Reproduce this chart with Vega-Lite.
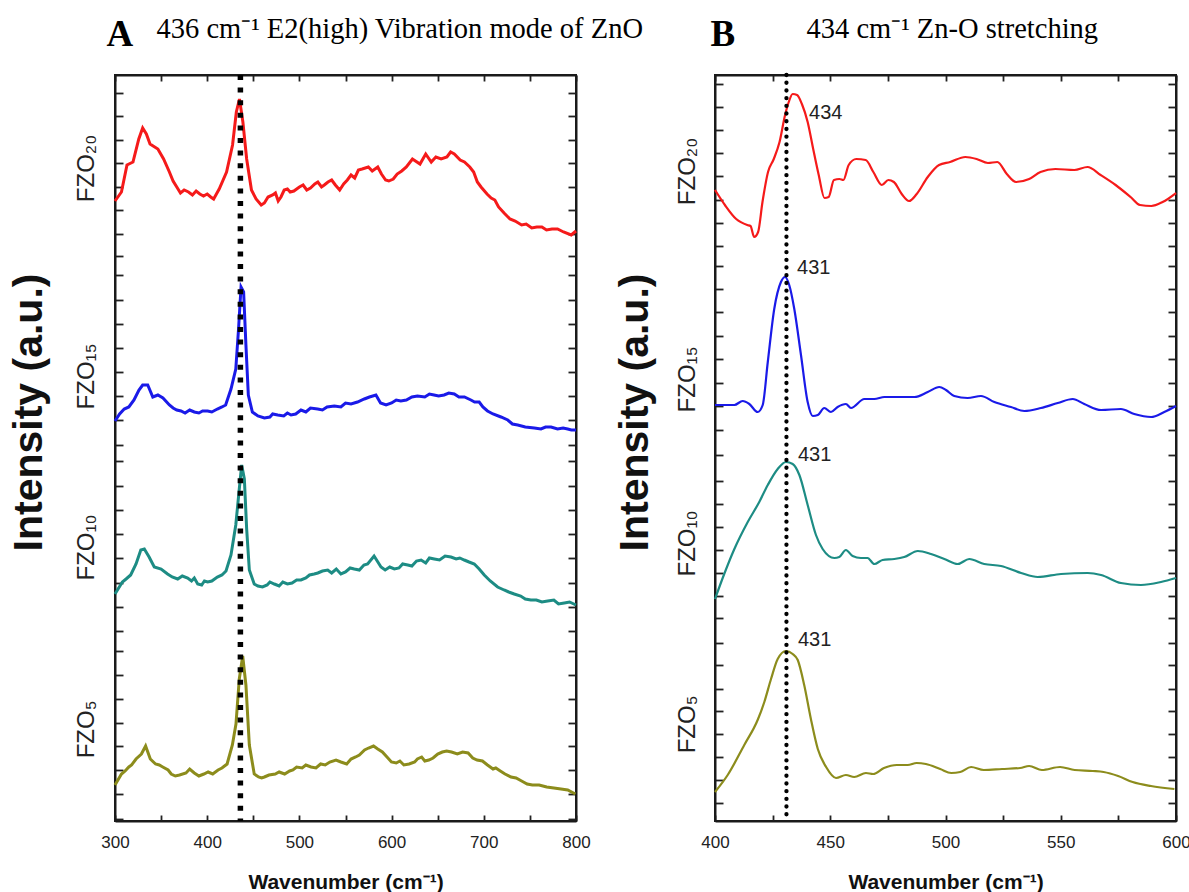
{
"$schema": "https://vega.github.io/schema/vega-lite/v6.json",
"padding": {"left": 7, "top": 13, "right": 0, "bottom": 0},
"background": "white",
"config": {
  "view": {"stroke": "#1a1a1a", "strokeWidth": 2},
  "axis": {"grid": false, "domain": false, "tickColor": "#222", "tickWidth": 1.8, "domainColor": "#1a1a1a", "domainWidth": 2, "labelFont": "Liberation Sans", "titleFont": "Liberation Sans", "labelColor": "#222", "titleColor": "#111"},
  "text": {"font": "Liberation Sans"}
},
"datasets": {
"specA": [
{"sample":"FZO20","wavenumber":300,"intensity":620},{"sample":"FZO20","wavenumber":307,"intensity":629},{"sample":"FZO20","wavenumber":313,"intensity":656},{"sample":"FZO20","wavenumber":319.5,"intensity":659},{"sample":"FZO20","wavenumber":325.8,"intensity":682},{"sample":"FZO20","wavenumber":330,"intensity":693},{"sample":"FZO20","wavenumber":334,"intensity":687},{"sample":"FZO20","wavenumber":338,"intensity":677},{"sample":"FZO20","wavenumber":346.5,"intensity":672},{"sample":"FZO20","wavenumber":352.7,"intensity":662},{"sample":"FZO20","wavenumber":359,"intensity":649},{"sample":"FZO20","wavenumber":367,"intensity":634},{"sample":"FZO20","wavenumber":379.7,"intensity":629},{"sample":"FZO20","wavenumber":392,"intensity":627},{"sample":"FZO20","wavenumber":403.8,"intensity":624},{"sample":"FZO20","wavenumber":413,"intensity":632},{"sample":"FZO20","wavenumber":421,"intensity":649},{"sample":"FZO20","wavenumber":427.5,"intensity":676},{"sample":"FZO20","wavenumber":431.6,"intensity":709},{"sample":"FZO20","wavenumber":435,"intensity":722},{"sample":"FZO20","wavenumber":438.7,"intensity":699},{"sample":"FZO20","wavenumber":442.8,"intensity":662},{"sample":"FZO20","wavenumber":448,"intensity":631},{"sample":"FZO20","wavenumber":458.6,"intensity":616},{"sample":"FZO20","wavenumber":471,"intensity":626},{"sample":"FZO20","wavenumber":477,"intensity":620},{"sample":"FZO20","wavenumber":483.5,"intensity":631},{"sample":"FZO20","wavenumber":490,"intensity":629},{"sample":"FZO20","wavenumber":500,"intensity":634},{"sample":"FZO20","wavenumber":508,"intensity":631},{"sample":"FZO20","wavenumber":516.7,"intensity":637},{"sample":"FZO20","wavenumber":524,"intensity":634},{"sample":"FZO20","wavenumber":531,"intensity":639},{"sample":"FZO20","wavenumber":543.7,"intensity":631},{"sample":"FZO20","wavenumber":552,"intensity":641},{"sample":"FZO20","wavenumber":564,"intensity":651},{"sample":"FZO20","wavenumber":574.8,"intensity":654},{"sample":"FZO20","wavenumber":585,"intensity":654},{"sample":"FZO20","wavenumber":593.5,"intensity":641},{"sample":"FZO20","wavenumber":601.8,"intensity":642},{"sample":"FZO20","wavenumber":616,"intensity":654},{"sample":"FZO20","wavenumber":622.6,"intensity":662},{"sample":"FZO20","wavenumber":630.8,"intensity":657},{"sample":"FZO20","wavenumber":637,"intensity":667},{"sample":"FZO20","wavenumber":643,"intensity":659},{"sample":"FZO20","wavenumber":653.7,"intensity":662},{"sample":"FZO20","wavenumber":668,"intensity":667},{"sample":"FZO20","wavenumber":674.4,"intensity":661},{"sample":"FZO20","wavenumber":684.8,"intensity":654},{"sample":"FZO20","wavenumber":693,"intensity":639},{"sample":"FZO20","wavenumber":703.5,"intensity":627},{"sample":"FZO20","wavenumber":716,"intensity":614},{"sample":"FZO20","wavenumber":728.4,"intensity":602},{"sample":"FZO20","wavenumber":741,"intensity":596},{"sample":"FZO20","wavenumber":757.5,"intensity":594},{"sample":"FZO20","wavenumber":774,"intensity":592},{"sample":"FZO20","wavenumber":786.5,"intensity":589},{"sample":"FZO20","wavenumber":794.8,"intensity":586},{"sample":"FZO20","wavenumber":800,"intensity":590},
{"sample":"FZO20","wavenumber":363,"intensity":640},{"sample":"FZO20","wavenumber":371,"intensity":628},{"sample":"FZO20","wavenumber":375,"intensity":631},{"sample":"FZO20","wavenumber":384,"intensity":626},{"sample":"FZO20","wavenumber":388,"intensity":630},{"sample":"FZO20","wavenumber":396,"intensity":625},{"sample":"FZO20","wavenumber":400,"intensity":627},{"sample":"FZO20","wavenumber":407,"intensity":622},{"sample":"FZO20","wavenumber":410,"intensity":627},{"sample":"FZO20","wavenumber":453,"intensity":622},{"sample":"FZO20","wavenumber":462,"intensity":618},{"sample":"FZO20","wavenumber":466,"intensity":624},{"sample":"FZO20","wavenumber":474,"intensity":628},{"sample":"FZO20","wavenumber":480,"intensity":624},{"sample":"FZO20","wavenumber":487,"intensity":632},{"sample":"FZO20","wavenumber":494,"intensity":630},{"sample":"FZO20","wavenumber":504,"intensity":636},{"sample":"FZO20","wavenumber":512,"intensity":633},{"sample":"FZO20","wavenumber":520,"intensity":639},{"sample":"FZO20","wavenumber":527,"intensity":636},{"sample":"FZO20","wavenumber":535,"intensity":641},{"sample":"FZO20","wavenumber":539,"intensity":636},{"sample":"FZO20","wavenumber":548,"intensity":637},{"sample":"FZO20","wavenumber":556,"intensity":646},{"sample":"FZO20","wavenumber":560,"intensity":643},{"sample":"FZO20","wavenumber":568,"intensity":652},{"sample":"FZO20","wavenumber":579,"intensity":650},{"sample":"FZO20","wavenumber":589,"intensity":647},{"sample":"FZO20","wavenumber":597,"intensity":640},{"sample":"FZO20","wavenumber":606,"intensity":647},{"sample":"FZO20","wavenumber":611,"intensity":650},{"sample":"FZO20","wavenumber":648,"intensity":664},{"sample":"FZO20","wavenumber":660,"intensity":664},{"sample":"FZO20","wavenumber":664,"intensity":669},{"sample":"FZO20","wavenumber":679,"intensity":659},{"sample":"FZO20","wavenumber":689,"intensity":649},{"sample":"FZO20","wavenumber":697,"intensity":634},{"sample":"FZO20","wavenumber":708,"intensity":623},{"sample":"FZO20","wavenumber":712,"intensity":621},{"sample":"FZO20","wavenumber":722,"intensity":608},{"sample":"FZO20","wavenumber":734,"intensity":600},{"sample":"FZO20","wavenumber":746,"intensity":597},{"sample":"FZO20","wavenumber":752,"intensity":593},{"sample":"FZO20","wavenumber":763,"intensity":594},{"sample":"FZO20","wavenumber":768,"intensity":591},{"sample":"FZO20","wavenumber":780,"intensity":592},
{"sample":"FZO15","wavenumber":300,"intensity":400},{"sample":"FZO15","wavenumber":310,"intensity":412},{"sample":"FZO15","wavenumber":320.6,"intensity":421},{"sample":"FZO15","wavenumber":326,"intensity":431},{"sample":"FZO15","wavenumber":330,"intensity":436},{"sample":"FZO15","wavenumber":335.5,"intensity":436},{"sample":"FZO15","wavenumber":341,"intensity":424},{"sample":"FZO15","wavenumber":346.5,"intensity":426},{"sample":"FZO15","wavenumber":352,"intensity":423},{"sample":"FZO15","wavenumber":359,"intensity":416},{"sample":"FZO15","wavenumber":371.6,"intensity":410},{"sample":"FZO15","wavenumber":386,"intensity":409},{"sample":"FZO15","wavenumber":400.5,"intensity":410},{"sample":"FZO15","wavenumber":411,"intensity":412},{"sample":"FZO15","wavenumber":420,"intensity":416},{"sample":"FZO15","wavenumber":425.8,"intensity":432},{"sample":"FZO15","wavenumber":431,"intensity":452},{"sample":"FZO15","wavenumber":434,"intensity":492},{"sample":"FZO15","wavenumber":436.7,"intensity":534},{"sample":"FZO15","wavenumber":439.5,"intensity":529},{"sample":"FZO15","wavenumber":442,"intensity":476},{"sample":"FZO15","wavenumber":444.6,"intensity":426},{"sample":"FZO15","wavenumber":449,"intensity":409},{"sample":"FZO15","wavenumber":462,"intensity":403},{"sample":"FZO15","wavenumber":476.5,"intensity":406},{"sample":"FZO15","wavenumber":490.9,"intensity":406},{"sample":"FZO15","wavenumber":501.7,"intensity":411},{"sample":"FZO15","wavenumber":519.8,"intensity":412},{"sample":"FZO15","wavenumber":537.9,"intensity":415},{"sample":"FZO15","wavenumber":556,"intensity":417},{"sample":"FZO15","wavenumber":570.4,"intensity":422},{"sample":"FZO15","wavenumber":583,"intensity":426},{"sample":"FZO15","wavenumber":594,"intensity":416},{"sample":"FZO15","wavenumber":610,"intensity":420},{"sample":"FZO15","wavenumber":628,"intensity":425},{"sample":"FZO15","wavenumber":646,"intensity":426},{"sample":"FZO15","wavenumber":657,"intensity":426},{"sample":"FZO15","wavenumber":668,"intensity":427},{"sample":"FZO15","wavenumber":679,"intensity":424},{"sample":"FZO15","wavenumber":686,"intensity":421},{"sample":"FZO15","wavenumber":695,"intensity":419},{"sample":"FZO15","wavenumber":704,"intensity":410},{"sample":"FZO15","wavenumber":718.6,"intensity":404},{"sample":"FZO15","wavenumber":736.8,"intensity":396},{"sample":"FZO15","wavenumber":754.8,"intensity":393},{"sample":"FZO15","wavenumber":772.9,"intensity":394},{"sample":"FZO15","wavenumber":791,"intensity":392},{"sample":"FZO15","wavenumber":800,"intensity":391},
{"sample":"FZO15","wavenumber":305,"intensity":407},{"sample":"FZO15","wavenumber":315,"intensity":414},{"sample":"FZO15","wavenumber":363,"intensity":413},{"sample":"FZO15","wavenumber":367,"intensity":411},{"sample":"FZO15","wavenumber":376,"intensity":408},{"sample":"FZO15","wavenumber":381,"intensity":411},{"sample":"FZO15","wavenumber":391,"intensity":408},{"sample":"FZO15","wavenumber":395,"intensity":410},{"sample":"FZO15","wavenumber":405,"intensity":409},{"sample":"FZO15","wavenumber":416,"intensity":414},{"sample":"FZO15","wavenumber":455,"intensity":405},{"sample":"FZO15","wavenumber":468,"intensity":404},{"sample":"FZO15","wavenumber":471,"intensity":407},{"sample":"FZO15","wavenumber":483,"intensity":405},{"sample":"FZO15","wavenumber":487,"intensity":408},{"sample":"FZO15","wavenumber":496,"intensity":407},{"sample":"FZO15","wavenumber":507,"intensity":409},{"sample":"FZO15","wavenumber":512,"intensity":413},{"sample":"FZO15","wavenumber":525,"intensity":411},{"sample":"FZO15","wavenumber":530,"intensity":414},{"sample":"FZO15","wavenumber":545,"intensity":414},{"sample":"FZO15","wavenumber":550,"intensity":418},{"sample":"FZO15","wavenumber":563,"intensity":419},{"sample":"FZO15","wavenumber":576,"intensity":424},{"sample":"FZO15","wavenumber":588,"intensity":418},{"sample":"FZO15","wavenumber":600,"intensity":418},{"sample":"FZO15","wavenumber":605,"intensity":421},{"sample":"FZO15","wavenumber":616,"intensity":421},{"sample":"FZO15","wavenumber":622,"intensity":424},{"sample":"FZO15","wavenumber":636,"intensity":424},{"sample":"FZO15","wavenumber":641,"intensity":427},{"sample":"FZO15","wavenumber":651,"intensity":425},{"sample":"FZO15","wavenumber":662,"intensity":428},{"sample":"FZO15","wavenumber":673,"intensity":424},{"sample":"FZO15","wavenumber":690,"intensity":419},{"sample":"FZO15","wavenumber":699,"intensity":414},{"sample":"FZO15","wavenumber":710,"intensity":407},{"sample":"FZO15","wavenumber":726,"intensity":401},{"sample":"FZO15","wavenumber":731,"intensity":397},{"sample":"FZO15","wavenumber":745,"intensity":394},{"sample":"FZO15","wavenumber":762,"intensity":392},{"sample":"FZO15","wavenumber":767,"intensity":394},{"sample":"FZO15","wavenumber":780,"intensity":392},{"sample":"FZO15","wavenumber":786,"intensity":393},{"sample":"FZO15","wavenumber":795,"intensity":391},
{"sample":"FZO10","wavenumber":300,"intensity":227},{"sample":"FZO10","wavenumber":308,"intensity":239},{"sample":"FZO10","wavenumber":317,"intensity":246},{"sample":"FZO10","wavenumber":322.8,"intensity":257},{"sample":"FZO10","wavenumber":328,"intensity":271},{"sample":"FZO10","wavenumber":331.8,"intensity":272},{"sample":"FZO10","wavenumber":337,"intensity":264},{"sample":"FZO10","wavenumber":342.6,"intensity":254},{"sample":"FZO10","wavenumber":350,"intensity":252},{"sample":"FZO10","wavenumber":357,"intensity":247},{"sample":"FZO10","wavenumber":368,"intensity":242},{"sample":"FZO10","wavenumber":378.8,"intensity":243},{"sample":"FZO10","wavenumber":389.7,"intensity":237},{"sample":"FZO10","wavenumber":400.5,"intensity":239},{"sample":"FZO10","wavenumber":411,"intensity":244},{"sample":"FZO10","wavenumber":420.4,"intensity":250},{"sample":"FZO10","wavenumber":425.8,"intensity":266},{"sample":"FZO10","wavenumber":431,"intensity":296},{"sample":"FZO10","wavenumber":434.8,"intensity":332},{"sample":"FZO10","wavenumber":437.4,"intensity":356},{"sample":"FZO10","wavenumber":440.3,"intensity":342},{"sample":"FZO10","wavenumber":442.8,"intensity":292},{"sample":"FZO10","wavenumber":445.7,"intensity":251},{"sample":"FZO10","wavenumber":451,"intensity":237},{"sample":"FZO10","wavenumber":460,"intensity":234},{"sample":"FZO10","wavenumber":472.8,"intensity":237},{"sample":"FZO10","wavenumber":487,"intensity":237},{"sample":"FZO10","wavenumber":501.7,"intensity":241},{"sample":"FZO10","wavenumber":516,"intensity":247},{"sample":"FZO10","wavenumber":530.7,"intensity":251},{"sample":"FZO10","wavenumber":545,"intensity":247},{"sample":"FZO10","wavenumber":559.5,"intensity":252},{"sample":"FZO10","wavenumber":574,"intensity":257},{"sample":"FZO10","wavenumber":581,"intensity":265},{"sample":"FZO10","wavenumber":588.5,"intensity":254},{"sample":"FZO10","wavenumber":603,"intensity":252},{"sample":"FZO10","wavenumber":617.5,"intensity":256},{"sample":"FZO10","wavenumber":632,"intensity":261},{"sample":"FZO10","wavenumber":646.3,"intensity":262},{"sample":"FZO10","wavenumber":664.4,"intensity":264},{"sample":"FZO10","wavenumber":678.8,"intensity":261},{"sample":"FZO10","wavenumber":689.7,"intensity":257},{"sample":"FZO10","wavenumber":700.5,"intensity":246},{"sample":"FZO10","wavenumber":715,"intensity":234},{"sample":"FZO10","wavenumber":733,"intensity":227},{"sample":"FZO10","wavenumber":751,"intensity":221},{"sample":"FZO10","wavenumber":769.3,"intensity":220},{"sample":"FZO10","wavenumber":787.3,"intensity":218},{"sample":"FZO10","wavenumber":800,"intensity":216},
{"sample":"FZO10","wavenumber":312,"intensity":242},{"sample":"FZO10","wavenumber":362,"intensity":244},{"sample":"FZO10","wavenumber":373,"intensity":245},{"sample":"FZO10","wavenumber":383,"intensity":240},{"sample":"FZO10","wavenumber":386,"intensity":243},{"sample":"FZO10","wavenumber":394,"intensity":236},{"sample":"FZO10","wavenumber":397,"intensity":240},{"sample":"FZO10","wavenumber":405,"intensity":240},{"sample":"FZO10","wavenumber":416,"intensity":246},{"sample":"FZO10","wavenumber":455,"intensity":235},{"sample":"FZO10","wavenumber":465,"intensity":236},{"sample":"FZO10","wavenumber":468,"intensity":239},{"sample":"FZO10","wavenumber":478,"intensity":235},{"sample":"FZO10","wavenumber":482,"intensity":239},{"sample":"FZO10","wavenumber":492,"intensity":238},{"sample":"FZO10","wavenumber":497,"intensity":241},{"sample":"FZO10","wavenumber":507,"intensity":243},{"sample":"FZO10","wavenumber":511,"intensity":246},{"sample":"FZO10","wavenumber":520,"intensity":248},{"sample":"FZO10","wavenumber":525,"intensity":250},{"sample":"FZO10","wavenumber":535,"intensity":248},{"sample":"FZO10","wavenumber":540,"intensity":252},{"sample":"FZO10","wavenumber":550,"intensity":249},{"sample":"FZO10","wavenumber":555,"intensity":253},{"sample":"FZO10","wavenumber":565,"intensity":251},{"sample":"FZO10","wavenumber":570,"intensity":256},{"sample":"FZO10","wavenumber":593,"intensity":251},{"sample":"FZO10","wavenumber":598,"intensity":254},{"sample":"FZO10","wavenumber":608,"intensity":253},{"sample":"FZO10","wavenumber":612,"intensity":257},{"sample":"FZO10","wavenumber":622,"intensity":255},{"sample":"FZO10","wavenumber":627,"intensity":260},{"sample":"FZO10","wavenumber":637,"intensity":258},{"sample":"FZO10","wavenumber":641,"intensity":263},{"sample":"FZO10","wavenumber":652,"intensity":261},{"sample":"FZO10","wavenumber":658,"intensity":265},{"sample":"FZO10","wavenumber":670,"intensity":262},{"sample":"FZO10","wavenumber":674,"intensity":263},{"sample":"FZO10","wavenumber":684,"intensity":259},{"sample":"FZO10","wavenumber":695,"intensity":252},{"sample":"FZO10","wavenumber":707,"intensity":240},{"sample":"FZO10","wavenumber":722,"intensity":231},{"sample":"FZO10","wavenumber":727,"intensity":229},{"sample":"FZO10","wavenumber":740,"intensity":225},{"sample":"FZO10","wavenumber":745,"intensity":222},{"sample":"FZO10","wavenumber":757,"intensity":221},{"sample":"FZO10","wavenumber":763,"intensity":219},{"sample":"FZO10","wavenumber":776,"intensity":221},{"sample":"FZO10","wavenumber":781,"intensity":217},{"sample":"FZO10","wavenumber":793,"intensity":219},
{"sample":"FZO5","wavenumber":300,"intensity":36},{"sample":"FZO5","wavenumber":307,"intensity":47},{"sample":"FZO5","wavenumber":315,"intensity":54},{"sample":"FZO5","wavenumber":322.8,"intensity":62},{"sample":"FZO5","wavenumber":328.6,"intensity":67},{"sample":"FZO5","wavenumber":333.2,"intensity":75},{"sample":"FZO5","wavenumber":338.3,"intensity":62},{"sample":"FZO5","wavenumber":344,"intensity":57},{"sample":"FZO5","wavenumber":351.8,"intensity":54},{"sample":"FZO5","wavenumber":357.6,"intensity":51},{"sample":"FZO5","wavenumber":365.4,"intensity":45},{"sample":"FZO5","wavenumber":377,"intensity":48},{"sample":"FZO5","wavenumber":381,"intensity":52},{"sample":"FZO5","wavenumber":396.4,"intensity":47},{"sample":"FZO5","wavenumber":411.8,"intensity":51},{"sample":"FZO5","wavenumber":421.6,"intensity":57},{"sample":"FZO5","wavenumber":427.3,"intensity":76},{"sample":"FZO5","wavenumber":431.2,"intensity":97},{"sample":"FZO5","wavenumber":434.8,"intensity":142},{"sample":"FZO5","wavenumber":438.5,"intensity":165},{"sample":"FZO5","wavenumber":442,"intensity":136},{"sample":"FZO5","wavenumber":445.7,"intensity":76},{"sample":"FZO5","wavenumber":451,"intensity":47},{"sample":"FZO5","wavenumber":455.7,"intensity":44},{"sample":"FZO5","wavenumber":462,"intensity":44},{"sample":"FZO5","wavenumber":473.8,"intensity":47},{"sample":"FZO5","wavenumber":489.4,"intensity":50},{"sample":"FZO5","wavenumber":497,"intensity":54},{"sample":"FZO5","wavenumber":512.6,"intensity":54},{"sample":"FZO5","wavenumber":528,"intensity":56},{"sample":"FZO5","wavenumber":539.7,"intensity":61},{"sample":"FZO5","wavenumber":551.3,"intensity":57},{"sample":"FZO5","wavenumber":561,"intensity":64},{"sample":"FZO5","wavenumber":570.7,"intensity":71},{"sample":"FZO5","wavenumber":580.4,"intensity":75},{"sample":"FZO5","wavenumber":590,"intensity":69},{"sample":"FZO5","wavenumber":599.8,"intensity":59},{"sample":"FZO5","wavenumber":613.3,"intensity":56},{"sample":"FZO5","wavenumber":625,"intensity":59},{"sample":"FZO5","wavenumber":632.6,"intensity":64},{"sample":"FZO5","wavenumber":640.4,"intensity":61},{"sample":"FZO5","wavenumber":650,"intensity":67},{"sample":"FZO5","wavenumber":659.7,"intensity":70},{"sample":"FZO5","wavenumber":671.3,"intensity":67},{"sample":"FZO5","wavenumber":683,"intensity":68},{"sample":"FZO5","wavenumber":692.7,"intensity":61},{"sample":"FZO5","wavenumber":698.5,"intensity":60},{"sample":"FZO5","wavenumber":710,"intensity":52},{"sample":"FZO5","wavenumber":717.9,"intensity":50},{"sample":"FZO5","wavenumber":729.5,"intensity":44},{"sample":"FZO5","wavenumber":741,"intensity":40},{"sample":"FZO5","wavenumber":752.7,"intensity":36},{"sample":"FZO5","wavenumber":768.2,"intensity":34},{"sample":"FZO5","wavenumber":783.7,"intensity":32},{"sample":"FZO5","wavenumber":799.3,"intensity":27},
{"sample":"FZO5","wavenumber":311,"intensity":50},{"sample":"FZO5","wavenumber":318,"intensity":56},{"sample":"FZO5","wavenumber":348,"intensity":56},{"sample":"FZO5","wavenumber":361,"intensity":47},{"sample":"FZO5","wavenumber":370,"intensity":46},{"sample":"FZO5","wavenumber":386,"intensity":48},{"sample":"FZO5","wavenumber":391,"intensity":45},{"sample":"FZO5","wavenumber":401,"intensity":49},{"sample":"FZO5","wavenumber":406,"intensity":47},{"sample":"FZO5","wavenumber":416,"intensity":53},{"sample":"FZO5","wavenumber":459,"intensity":43},{"sample":"FZO5","wavenumber":467,"intensity":46},{"sample":"FZO5","wavenumber":478,"intensity":49},{"sample":"FZO5","wavenumber":484,"intensity":47},{"sample":"FZO5","wavenumber":493,"intensity":51},{"sample":"FZO5","wavenumber":503,"intensity":53},{"sample":"FZO5","wavenumber":507,"intensity":56},{"sample":"FZO5","wavenumber":518,"intensity":53},{"sample":"FZO5","wavenumber":523,"intensity":57},{"sample":"FZO5","wavenumber":533,"intensity":59},{"sample":"FZO5","wavenumber":545,"intensity":59},{"sample":"FZO5","wavenumber":556,"intensity":62},{"sample":"FZO5","wavenumber":565,"intensity":66},{"sample":"FZO5","wavenumber":575,"intensity":73},{"sample":"FZO5","wavenumber":585,"intensity":72},{"sample":"FZO5","wavenumber":595,"intensity":64},{"sample":"FZO5","wavenumber":605,"intensity":58},{"sample":"FZO5","wavenumber":609,"intensity":60},{"sample":"FZO5","wavenumber":619,"intensity":57},{"sample":"FZO5","wavenumber":628,"intensity":62},{"sample":"FZO5","wavenumber":636,"intensity":60},{"sample":"FZO5","wavenumber":645,"intensity":63},{"sample":"FZO5","wavenumber":655,"intensity":69},{"sample":"FZO5","wavenumber":665,"intensity":69},{"sample":"FZO5","wavenumber":677,"intensity":69},{"sample":"FZO5","wavenumber":688,"intensity":63},{"sample":"FZO5","wavenumber":704,"intensity":56},{"sample":"FZO5","wavenumber":713,"intensity":53},{"sample":"FZO5","wavenumber":723,"intensity":47},{"sample":"FZO5","wavenumber":735,"intensity":43},{"sample":"FZO5","wavenumber":747,"intensity":37},{"sample":"FZO5","wavenumber":760,"intensity":36},{"sample":"FZO5","wavenumber":776,"intensity":33},{"sample":"FZO5","wavenumber":791,"intensity":31}
],
"specB": [
{"sample":"FZO20","wavenumber":400,"intensity":631},{"sample":"FZO20","wavenumber":404.3,"intensity":616},{"sample":"FZO20","wavenumber":409.2,"intensity":602},{"sample":"FZO20","wavenumber":414,"intensity":596},{"sample":"FZO20","wavenumber":415.4,"intensity":595},{"sample":"FZO20","wavenumber":417,"intensity":584},{"sample":"FZO20","wavenumber":418.7,"intensity":589},{"sample":"FZO20","wavenumber":420.6,"intensity":619},{"sample":"FZO20","wavenumber":423,"intensity":649},{"sample":"FZO20","wavenumber":425.5,"intensity":662},{"sample":"FZO20","wavenumber":428,"intensity":679},{"sample":"FZO20","wavenumber":430.4,"intensity":706},{"sample":"FZO20","wavenumber":432,"intensity":719},{"sample":"FZO20","wavenumber":433.7,"intensity":727},{"sample":"FZO20","wavenumber":435.6,"intensity":726},{"sample":"FZO20","wavenumber":437.7,"intensity":717},{"sample":"FZO20","wavenumber":440.2,"intensity":699},{"sample":"FZO20","wavenumber":442.6,"intensity":672},{"sample":"FZO20","wavenumber":445,"intensity":646},{"sample":"FZO20","wavenumber":447.5,"intensity":623},{"sample":"FZO20","wavenumber":449.3,"intensity":624},{"sample":"FZO20","wavenumber":451.6,"intensity":641},{"sample":"FZO20","wavenumber":454,"intensity":642},{"sample":"FZO20","wavenumber":455.7,"intensity":641},{"sample":"FZO20","wavenumber":458,"intensity":656},{"sample":"FZO20","wavenumber":461.3,"intensity":662},{"sample":"FZO20","wavenumber":465.4,"intensity":661},{"sample":"FZO20","wavenumber":468.7,"intensity":649},{"sample":"FZO20","wavenumber":472.4,"intensity":636},{"sample":"FZO20","wavenumber":475.2,"intensity":641},{"sample":"FZO20","wavenumber":477.6,"intensity":639},{"sample":"FZO20","wavenumber":481,"intensity":627},{"sample":"FZO20","wavenumber":484.2,"intensity":620},{"sample":"FZO20","wavenumber":487.5,"intensity":627},{"sample":"FZO20","wavenumber":492.3,"intensity":644},{"sample":"FZO20","wavenumber":497.2,"intensity":656},{"sample":"FZO20","wavenumber":502,"intensity":659},{"sample":"FZO20","wavenumber":508.6,"intensity":664},{"sample":"FZO20","wavenumber":513.5,"intensity":662},{"sample":"FZO20","wavenumber":518.4,"intensity":658},{"sample":"FZO20","wavenumber":522.5,"intensity":659},{"sample":"FZO20","wavenumber":526.6,"intensity":647},{"sample":"FZO20","wavenumber":530.6,"intensity":639},{"sample":"FZO20","wavenumber":536.3,"intensity":642},{"sample":"FZO20","wavenumber":541.2,"intensity":649},{"sample":"FZO20","wavenumber":547.7,"intensity":652},{"sample":"FZO20","wavenumber":555.9,"intensity":651},{"sample":"FZO20","wavenumber":561.6,"intensity":654},{"sample":"FZO20","wavenumber":567.3,"intensity":646},{"sample":"FZO20","wavenumber":573.8,"intensity":636},{"sample":"FZO20","wavenumber":580.3,"intensity":624},{"sample":"FZO20","wavenumber":584.4,"intensity":616},{"sample":"FZO20","wavenumber":589.3,"intensity":615},{"sample":"FZO20","wavenumber":594.2,"intensity":619},{"sample":"FZO20","wavenumber":600,"intensity":628},
{"sample":"FZO15","wavenumber":400,"intensity":416},{"sample":"FZO15","wavenumber":408.4,"intensity":416},{"sample":"FZO15","wavenumber":412,"intensity":420},{"sample":"FZO15","wavenumber":414.9,"intensity":417},{"sample":"FZO15","wavenumber":418.5,"intensity":409},{"sample":"FZO15","wavenumber":420.7,"intensity":416},{"sample":"FZO15","wavenumber":422.9,"intensity":459},{"sample":"FZO15","wavenumber":425.7,"intensity":512},{"sample":"FZO15","wavenumber":428.6,"intensity":539},{"sample":"FZO15","wavenumber":430.4,"intensity":544},{"sample":"FZO15","wavenumber":432.2,"intensity":536},{"sample":"FZO15","wavenumber":434.4,"intensity":512},{"sample":"FZO15","wavenumber":437.3,"intensity":466},{"sample":"FZO15","wavenumber":440.2,"intensity":419},{"sample":"FZO15","wavenumber":442.4,"intensity":405},{"sample":"FZO15","wavenumber":444.6,"intensity":406},{"sample":"FZO15","wavenumber":447.4,"intensity":413},{"sample":"FZO15","wavenumber":450.3,"intensity":409},{"sample":"FZO15","wavenumber":453.2,"intensity":414},{"sample":"FZO15","wavenumber":456.8,"intensity":417},{"sample":"FZO15","wavenumber":459,"intensity":413},{"sample":"FZO15","wavenumber":464.8,"intensity":422},{"sample":"FZO15","wavenumber":469.1,"intensity":422},{"sample":"FZO15","wavenumber":473.5,"intensity":424},{"sample":"FZO15","wavenumber":480.7,"intensity":424},{"sample":"FZO15","wavenumber":486.5,"intensity":424},{"sample":"FZO15","wavenumber":492.3,"intensity":429},{"sample":"FZO15","wavenumber":497.3,"intensity":434},{"sample":"FZO15","wavenumber":500.2,"intensity":431},{"sample":"FZO15","wavenumber":503.8,"intensity":425},{"sample":"FZO15","wavenumber":509.6,"intensity":423},{"sample":"FZO15","wavenumber":515.4,"intensity":425},{"sample":"FZO15","wavenumber":521.2,"intensity":419},{"sample":"FZO15","wavenumber":528.4,"intensity":414},{"sample":"FZO15","wavenumber":534.2,"intensity":410},{"sample":"FZO15","wavenumber":541.4,"intensity":413},{"sample":"FZO15","wavenumber":548.7,"intensity":418},{"sample":"FZO15","wavenumber":555.2,"intensity":422},{"sample":"FZO15","wavenumber":560.2,"intensity":417},{"sample":"FZO15","wavenumber":567.5,"intensity":411},{"sample":"FZO15","wavenumber":576.1,"intensity":412},{"sample":"FZO15","wavenumber":581.9,"intensity":407},{"sample":"FZO15","wavenumber":589.2,"intensity":404},{"sample":"FZO15","wavenumber":594.9,"intensity":409},{"sample":"FZO15","wavenumber":600,"intensity":415},
{"sample":"FZO10","wavenumber":400,"intensity":222},{"sample":"FZO10","wavenumber":404,"intensity":247},{"sample":"FZO10","wavenumber":408.4,"intensity":272},{"sample":"FZO10","wavenumber":414.2,"intensity":299},{"sample":"FZO10","wavenumber":419.2,"intensity":319},{"sample":"FZO10","wavenumber":422.9,"intensity":336},{"sample":"FZO10","wavenumber":427.2,"intensity":352},{"sample":"FZO10","wavenumber":430.8,"intensity":359},{"sample":"FZO10","wavenumber":433.7,"intensity":357},{"sample":"FZO10","wavenumber":436.6,"intensity":346},{"sample":"FZO10","wavenumber":440.2,"intensity":316},{"sample":"FZO10","wavenumber":443.8,"intensity":286},{"sample":"FZO10","wavenumber":446.7,"intensity":272},{"sample":"FZO10","wavenumber":451.8,"intensity":263},{"sample":"FZO10","wavenumber":453.9,"intensity":264},{"sample":"FZO10","wavenumber":456.8,"intensity":271},{"sample":"FZO10","wavenumber":459.7,"intensity":265},{"sample":"FZO10","wavenumber":463.3,"intensity":263},{"sample":"FZO10","wavenumber":466.2,"intensity":263},{"sample":"FZO10","wavenumber":469.1,"intensity":257},{"sample":"FZO10","wavenumber":472.7,"intensity":261},{"sample":"FZO10","wavenumber":477.8,"intensity":262},{"sample":"FZO10","wavenumber":482.1,"intensity":264},{"sample":"FZO10","wavenumber":488,"intensity":270},{"sample":"FZO10","wavenumber":493.7,"intensity":267},{"sample":"FZO10","wavenumber":499.5,"intensity":262},{"sample":"FZO10","wavenumber":505.3,"intensity":257},{"sample":"FZO10","wavenumber":510.3,"intensity":262},{"sample":"FZO10","wavenumber":516.8,"intensity":257},{"sample":"FZO10","wavenumber":524.1,"intensity":255},{"sample":"FZO10","wavenumber":532.8,"intensity":248},{"sample":"FZO10","wavenumber":540,"intensity":244},{"sample":"FZO10","wavenumber":550.1,"intensity":247},{"sample":"FZO10","wavenumber":561.7,"intensity":248},{"sample":"FZO10","wavenumber":567.5,"intensity":246},{"sample":"FZO10","wavenumber":576.1,"intensity":238},{"sample":"FZO10","wavenumber":584.8,"intensity":236},{"sample":"FZO10","wavenumber":593.5,"intensity":239},{"sample":"FZO10","wavenumber":600,"intensity":243},
{"sample":"FZO5","wavenumber":400,"intensity":29},{"sample":"FZO5","wavenumber":405.5,"intensity":46},{"sample":"FZO5","wavenumber":412.7,"intensity":76},{"sample":"FZO5","wavenumber":418.5,"intensity":101},{"sample":"FZO5","wavenumber":421.4,"intensity":119},{"sample":"FZO5","wavenumber":424.3,"intensity":142},{"sample":"FZO5","wavenumber":427.2,"intensity":162},{"sample":"FZO5","wavenumber":430.8,"intensity":170},{"sample":"FZO5","wavenumber":433.7,"intensity":167},{"sample":"FZO5","wavenumber":435.9,"intensity":161},{"sample":"FZO5","wavenumber":438.7,"intensity":136},{"sample":"FZO5","wavenumber":441.6,"intensity":102},{"sample":"FZO5","wavenumber":444.6,"intensity":72},{"sample":"FZO5","wavenumber":448.2,"intensity":54},{"sample":"FZO5","wavenumber":452.5,"intensity":43},{"sample":"FZO5","wavenumber":456.8,"intensity":46},{"sample":"FZO5","wavenumber":460.4,"intensity":44},{"sample":"FZO5","wavenumber":465.5,"intensity":48},{"sample":"FZO5","wavenumber":468.6,"intensity":47},{"sample":"FZO5","wavenumber":473.3,"intensity":53},{"sample":"FZO5","wavenumber":478.9,"intensity":56},{"sample":"FZO5","wavenumber":483.6,"intensity":56},{"sample":"FZO5","wavenumber":487.5,"intensity":58},{"sample":"FZO5","wavenumber":491.5,"intensity":57},{"sample":"FZO5","wavenumber":497.7,"intensity":52},{"sample":"FZO5","wavenumber":502.5,"intensity":48},{"sample":"FZO5","wavenumber":506.4,"intensity":49},{"sample":"FZO5","wavenumber":511.1,"intensity":54},{"sample":"FZO5","wavenumber":516.6,"intensity":51},{"sample":"FZO5","wavenumber":524.5,"intensity":52},{"sample":"FZO5","wavenumber":532.4,"intensity":53},{"sample":"FZO5","wavenumber":536.3,"intensity":55},{"sample":"FZO5","wavenumber":541.8,"intensity":51},{"sample":"FZO5","wavenumber":549.7,"intensity":54},{"sample":"FZO5","wavenumber":556,"intensity":51},{"sample":"FZO5","wavenumber":563.9,"intensity":50},{"sample":"FZO5","wavenumber":568.6,"intensity":49},{"sample":"FZO5","wavenumber":574.9,"intensity":45},{"sample":"FZO5","wavenumber":581.2,"intensity":39},{"sample":"FZO5","wavenumber":589.1,"intensity":35},{"sample":"FZO5","wavenumber":599.3,"intensity":32}
]
},
"spacing": 139,
"bounds": "flush",
"hconcat": [
{
  "width": 461, "height": 746,
  "layer": [
    {
      "data": {"name": "specA"},
      "mark": {"type": "line", "strokeWidth": 3},
      "encoding": {
        "x": {"field": "wavenumber", "type": "quantitative", "scale": {"domain": [300, 800], "nice": false, "zero": false},
          "axis": {"orient": "bottom", "domain": true, "values": [300,350,400,450,500,550,600,650,700,750,800], "labelExpr": "datum.value % 100 === 0 ? datum.label : ''", "tickSize": -6, "labelPadding": 19, "labelFontSize": 17, "labelFlush": false, "labelOverlap": false, "title": "Wavenumber (cm⁻¹)", "titleFontSize": 21, "titleFontWeight": "bold", "titleY": 67, "titleBaseline": "alphabetic"}},
        "y": {"field": "intensity", "type": "quantitative", "scale": {"domain": [0, 746], "nice": false, "zero": false},
          "axis": {"orient": "left", "domain": true, "values": [728,705,681,658,634,611,587,565,546,521,497,473,449,425,401,376,360,335,311,287,263,238,214,190,170,146,122,98,75,51,27,2], "labels": false, "tickSize": -8, "title": "Intensity (a.u.)", "titleFontSize": 41, "titleFontWeight": "bold", "titleX": -74, "titleY": 337, "titleAngle": 270, "titleAlign": "center", "titleBaseline": "alphabetic"}},
        "color": {"field": "sample", "type": "nominal", "scale": {"domain": ["FZO20","FZO15","FZO10","FZO5"], "range": ["#f51a1a","#1a1ae8","#1d8c84","#8c8c1c"]}, "legend": null}
      }
    },
    {
      "data": {"name": "specA"},
      "mark": {"type": "line", "opacity": 0},
      "encoding": {
        "x": {"field": "wavenumber", "type": "quantitative", "scale": {"domain": [300, 800], "nice": false, "zero": false},
          "axis": {"orient": "top", "domain": true, "values": [300,350,400,450,500,550,600,650,700,750,800], "labels": false, "tickSize": -6, "title": "A", "titleFont": "Liberation Serif", "titleFontWeight": "bold", "titleFontSize": 37, "titleColor": "#000", "titleX": -9, "titleY": -30, "titleAlign": "left", "titleAnchor": "start", "titleBaseline": "alphabetic", "titleAngle": 0}},
        "y": {"field": "intensity", "type": "quantitative", "scale": {"domain": [0, 746], "nice": false, "zero": false},
          "axis": {"orient": "right", "domain": true, "values": [728,705,681,658,634,611,587,565,546,521,497,473,449,425,401,376,360,335,311,287,263,238,214,190,170,146,122,98,75,51,27,2], "labels": false, "tickSize": -8, "title": null}}
      }
    },
    {
      "data": {"name": "specA"},
      "mark": {"type": "line", "opacity": 0},
      "encoding": {
        "x": {"field": "wavenumber", "type": "quantitative", "scale": {"domain": [300, 800], "nice": false, "zero": false},
          "axis": {"orient": "top", "ticks": false, "labels": false, "title": "436 cm⁻¹ E2(high) Vibration mode of ZnO", "titleFont": "Liberation Serif", "titleFontWeight": "normal", "titleFontSize": 28.5, "titleColor": "#000", "titleX": 41, "titleY": -38, "titleAlign": "left", "titleAnchor": "start", "titleBaseline": "alphabetic", "titleAngle": 0}},
        "y": {"field": "intensity", "type": "quantitative", "scale": {"domain": [0, 746], "nice": false, "zero": false},
          "axis": {"orient": "left", "values": [653, 445, 274, 92], "ticks": false, "labelExpr": "datum.value === 653 ? 'FZO₂₀' : datum.value === 445 ? 'FZO₁₅' : datum.value === 274 ? 'FZO₁₀' : 'FZO₅'", "labelAngle": 270, "labelAlign": "center", "labelBaseline": "alphabetic", "labelPadding": 22, "labelFontSize": 24, "labelColor": "#222", "labelOverlap": false, "title": null}}
      }
    },
    {
      "data": {"values": [{"peak": 436}]},
      "mark": {"type": "rule", "color": "#000", "strokeWidth": 5.5, "strokeDash": [5, 7.6]},
      "encoding": {
        "x": {"field": "peak", "type": "quantitative", "scale": {"domain": [300, 800], "nice": false, "zero": false}, "axis": null}
      }
    }
  ],
  "resolve": {"axis": {"x": "independent", "y": "independent"}}
},
{
  "width": 461, "height": 746,
  "layer": [
    {
      "data": {"name": "specB"},
      "mark": {"type": "line", "strokeWidth": 2.2, "interpolate": "monotone"},
      "encoding": {
        "x": {"field": "wavenumber", "type": "quantitative", "scale": {"domain": [400, 600], "nice": false, "zero": false},
          "axis": {"orient": "bottom", "domain": true, "values": [400,425,450,475,500,525,550,575,600], "labelExpr": "datum.value % 50 === 0 ? datum.label : ''", "tickSize": -6, "labelPadding": 19, "labelFontSize": 17, "labelFlush": false, "labelOverlap": false, "title": "Wavenumber (cm⁻¹)", "titleFontSize": 21, "titleFontWeight": "bold", "titleY": 67, "titleBaseline": "alphabetic"}},
        "y": {"field": "intensity", "type": "quantitative", "scale": {"domain": [0, 746], "nice": false, "zero": false},
          "axis": {"orient": "left", "domain": true, "values": [737,714,691,668,645,621,598,575,555,532,509,485,462,438,415,391,366,340,317,294,271,248,225,203,178,156,132,110,87,64,41,18], "labels": false, "tickSize": -8, "title": "Intensity (a.u.)", "titleFontSize": 41, "titleFontWeight": "bold", "titleX": -68, "titleY": 337, "titleAngle": 270, "titleAlign": "center", "titleBaseline": "alphabetic"}},
        "color": {"field": "sample", "type": "nominal", "scale": {"domain": ["FZO20","FZO15","FZO10","FZO5"], "range": ["#f51a1a","#1a1ae8","#1d8c84","#8c8c1c"]}, "legend": null}
      }
    },
    {
      "data": {"name": "specB"},
      "mark": {"type": "line", "opacity": 0},
      "encoding": {
        "x": {"field": "wavenumber", "type": "quantitative", "scale": {"domain": [400, 600], "nice": false, "zero": false},
          "axis": {"orient": "top", "domain": true, "values": [400,425,450,475,500,525,550,575,600], "labels": false, "tickSize": -6, "title": "B", "titleFont": "Liberation Serif", "titleFontWeight": "bold", "titleFontSize": 37, "titleColor": "#000", "titleX": -5, "titleY": -30, "titleAlign": "left", "titleAnchor": "start", "titleBaseline": "alphabetic", "titleAngle": 0}},
        "y": {"field": "intensity", "type": "quantitative", "scale": {"domain": [0, 746], "nice": false, "zero": false},
          "axis": {"orient": "right", "domain": true, "values": [737,714,691,668,645,621,598,575,555,532,509,485,462,438,415,391,366,340,317,294,271,248,225,203,178,156,132,110,87,64,41,18], "labels": false, "tickSize": -8, "title": null}}
      }
    },
    {
      "data": {"name": "specB"},
      "mark": {"type": "line", "opacity": 0},
      "encoding": {
        "x": {"field": "wavenumber", "type": "quantitative", "scale": {"domain": [400, 600], "nice": false, "zero": false},
          "axis": {"orient": "top", "ticks": false, "labels": false, "title": "434 cm⁻¹ Zn-O stretching", "titleFont": "Liberation Serif", "titleFontWeight": "normal", "titleFontSize": 28.5, "titleColor": "#000", "titleX": 91, "titleY": -38, "titleAlign": "left", "titleAnchor": "start", "titleBaseline": "alphabetic", "titleAngle": 0}},
        "y": {"field": "intensity", "type": "quantitative", "scale": {"domain": [0, 746], "nice": false, "zero": false},
          "axis": {"orient": "left", "values": [650, 442, 278, 97], "ticks": false, "labelExpr": "datum.value === 650 ? 'FZO₂₀' : datum.value === 442 ? 'FZO₁₅' : datum.value === 278 ? 'FZO₁₀' : 'FZO₅'", "labelAngle": 270, "labelAlign": "center", "labelBaseline": "alphabetic", "labelPadding": 21, "labelFontSize": 24, "labelColor": "#222", "labelOverlap": false, "title": null}}
      }
    },
    {
      "data": {"values": [{"peak": 431}]},
      "mark": {"type": "rule", "color": "#000", "strokeWidth": 4.3, "strokeDash": [0.1, 7.6], "strokeCap": "round"},
      "encoding": {
        "x": {"field": "peak", "type": "quantitative", "scale": {"domain": [400, 600], "nice": false, "zero": false}, "axis": null}
      }
    },
    {
      "data": {"values": [
        {"label": "434", "wavenumber": 440.8, "intensity": 708},
        {"label": "431", "wavenumber": 435.6, "intensity": 553},
        {"label": "431", "wavenumber": 436, "intensity": 366},
        {"label": "431", "wavenumber": 436, "intensity": 181}
      ]},
      "mark": {"type": "text", "align": "left", "baseline": "middle", "fontSize": 20, "color": "#222", "font": "Liberation Sans"},
      "encoding": {
        "x": {"field": "wavenumber", "type": "quantitative", "scale": {"domain": [400, 600], "nice": false, "zero": false}, "axis": null},
        "y": {"field": "intensity", "type": "quantitative", "scale": {"domain": [0, 746], "nice": false, "zero": false}, "axis": null},
        "text": {"field": "label"}
      }
    }
  ],
  "resolve": {"axis": {"x": "independent", "y": "independent"}}
}
]
}
